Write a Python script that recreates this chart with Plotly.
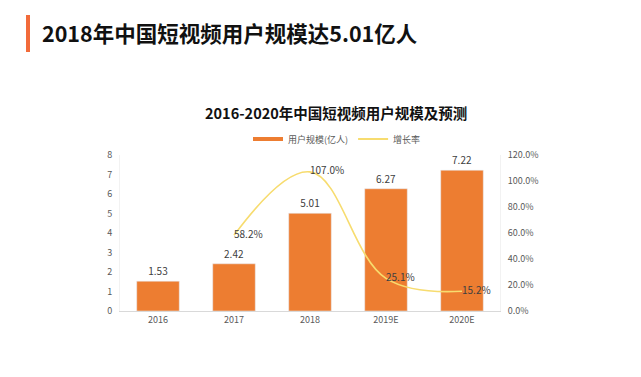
import plotly.graph_objects as go

categories = ["2016", "2017", "2018", "2019E", "2020E"]
users = [1.53, 2.42, 5.01, 6.27, 7.22]
growth_cats = ["2017", "2018", "2019E", "2020E"]
growth = [58.2, 107.0, 25.1, 15.2]
left_ticks = [0, 1, 2, 3, 4, 5, 6, 7, 8]
right_ticks = [0, 20, 40, 60, 80, 100, 120]

ORANGE = "#ED7D31"
YELLOW = "#F7DC6F"
FONT = "Noto Sans CJK SC, Noto Sans, sans-serif"
W, H = 641, 377
L, R, T, B = 120, 141, 155, 66
pw, ph = W - L - R, H - T - B

def px(x):
    return (x - L) / pw

def py(y):
    return (H - B - y) / ph

fig = go.Figure()
fig.add_trace(go.Bar(
    x=categories, y=users, marker_color=ORANGE, width=0.56,
    text=[f"{v:.2f}" for v in users], textposition="outside",
    textfont=dict(size=10, color="#404040", family=FONT),
    cliponaxis=False, showlegend=False))
fig.add_trace(go.Scatter(
    x=growth_cats, y=growth, yaxis="y2", mode="lines+text",
    line=dict(color=YELLOW, width=1.6, shape="spline", smoothing=1.1),
    text=[f"{v:.1f}%" for v in growth], textposition="middle right",
    textfont=dict(size=10, color="#404040", family=FONT),
    cliponaxis=False, showlegend=False))
# legend entries
fig.add_trace(go.Scatter(x=[None], y=[None], mode="lines", name="用户规模(亿人)",
                         line=dict(color=ORANGE, width=4)))
fig.add_trace(go.Scatter(x=[None], y=[None], mode="lines", name="增长率",
                         line=dict(color=YELLOW, width=2)))

fig.update_layout(
    width=W, height=H, autosize=False,
    margin=dict(l=L, r=R, t=T, b=B),
    paper_bgcolor="white", plot_bgcolor="white",
    font=dict(family=FONT, color="#595959", size=9),
    bargap=0.44,
    xaxis=dict(showgrid=False, showline=True, linecolor="#D9D9D9", linewidth=1,
               ticks="", tickfont=dict(size=9, color="#595959")),
    yaxis=dict(range=[0, 8], tickvals=left_ticks, showgrid=False, zeroline=False,
               showline=True, linecolor="#F2F2F2", ticks="", ticklabelstandoff=5,
               tickfont=dict(size=9, color="#595959")),
    yaxis2=dict(range=[0, 120], tickvals=right_ticks,
                ticktext=[f"{v:.1f}%" for v in right_ticks],
                overlaying="y", side="right", showgrid=False, zeroline=False,
                showline=True, linecolor="#F2F2F2", ticks="", ticklabelstandoff=5,
                tickfont=dict(size=9, color="#595959")),
    legend=dict(orientation="h", x=px(337), xanchor="center", y=py(139), yanchor="middle",
                font=dict(size=9, color="#595959"), itemwidth=30, bgcolor="rgba(0,0,0,0)"),
    annotations=[
        dict(text="<b>2018年中国短视频用户规模达5.01亿人</b>", xref="paper", yref="paper",
             x=px(40), y=py(33), xanchor="left", yanchor="middle", showarrow=False,
             font=dict(size=21.5, color="#111111", family=FONT)),
        dict(text="<b>2016-2020年中国短视频用户规模及预测</b>", xref="paper", yref="paper",
             x=px(336), y=py(112), xanchor="center", yanchor="middle", showarrow=False,
             font=dict(size=14.5, color="#111111", family=FONT)),
    ],
    shapes=[dict(type="rect", xref="paper", yref="paper", x0=px(26), x1=px(30),
                 y0=py(52), y1=py(15), fillcolor="#F26B3A", line=dict(width=0))],
)

fig.write_html("out.html", config={"displayModeBar": False},
               post_script="document.body.style.margin='0';")
